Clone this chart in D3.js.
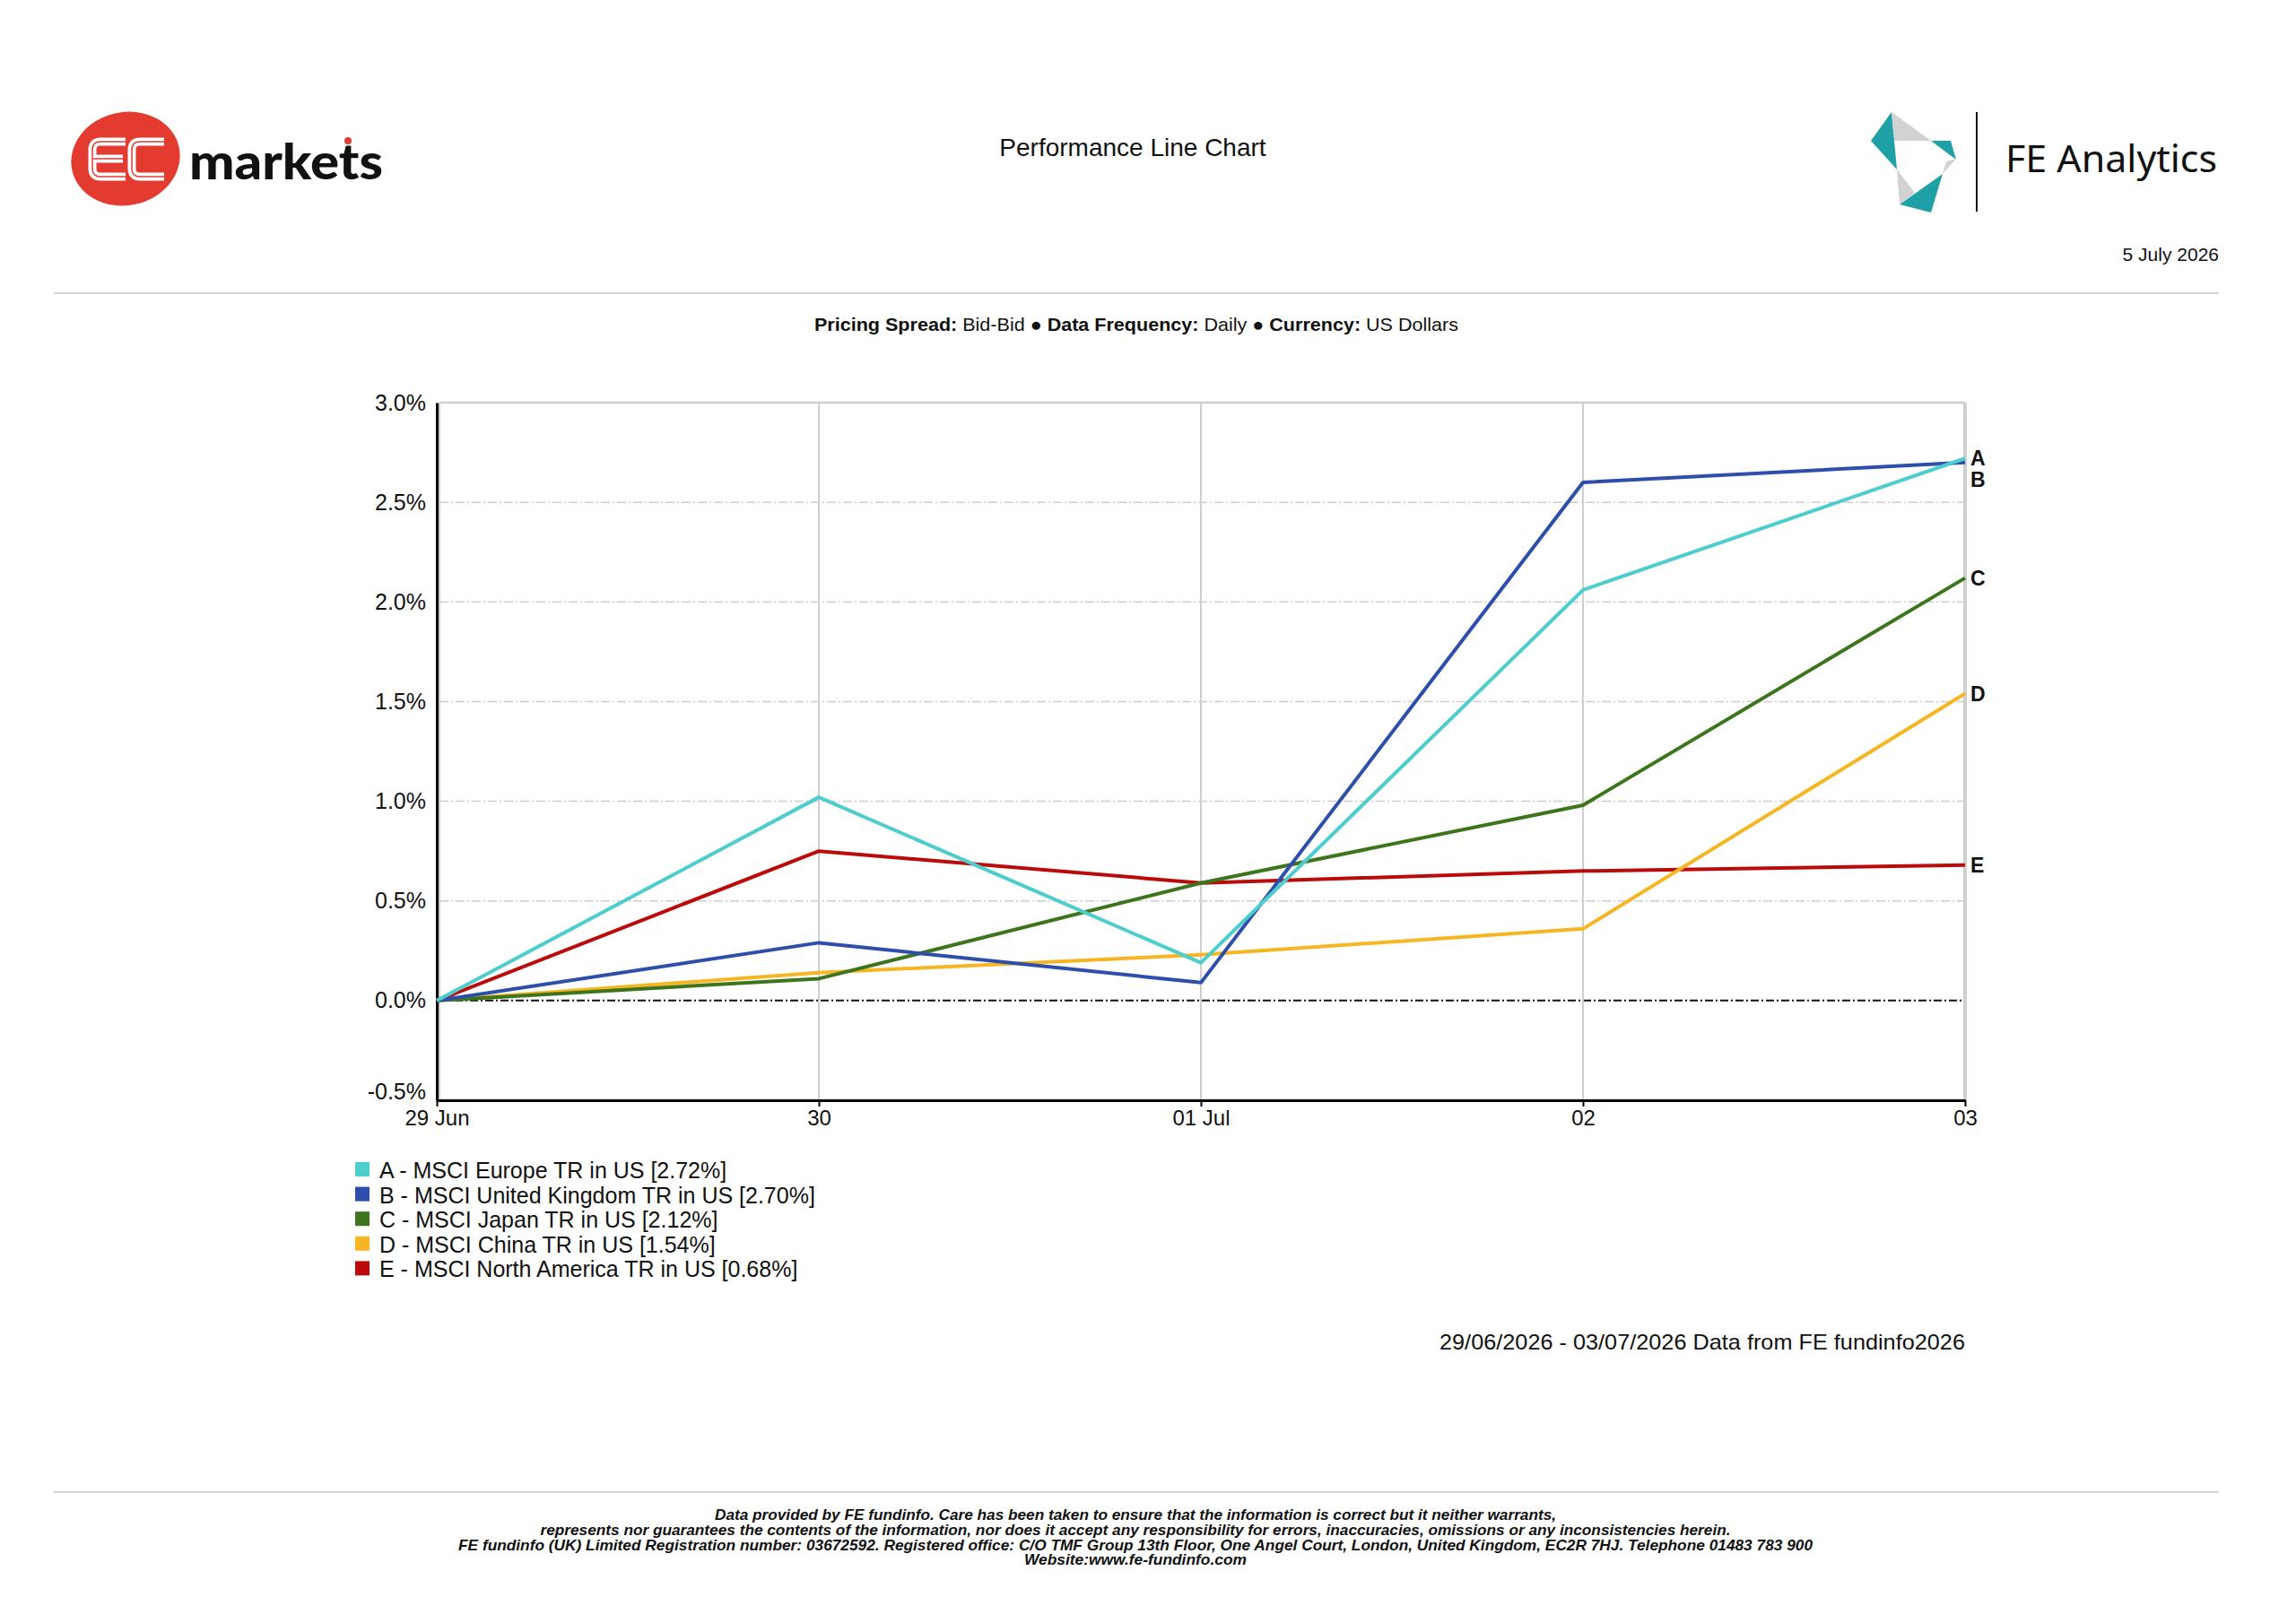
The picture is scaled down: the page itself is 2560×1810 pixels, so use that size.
<!DOCTYPE html>
<html>
<head>
<meta charset="utf-8">
<script src="https://cdn.jsdelivr.net/npm/d3@7"></script>
<style>
  body { margin: 0; background: #fff; }
  svg { display: block; font-family: "Liberation Sans", Arial, sans-serif; }
</style>
</head>
<body>
<div id="chart"></div>
<script>
// chart data
var dates = ["2026-06-29", "2026-06-30", "2026-07-01", "2026-07-02", "2026-07-03"];
var tickLabels = ["29 Jun", "30", "01 Jul", "02", "03"];
var yTicks = [-0.5, 0.0, 0.5, 1.0, 1.5, 2.0, 2.5, 3.0];

var seriesKeys = ["A", "B", "C", "D", "E"];
var seriesNames = [
  "A - MSCI Europe TR in US [2.72%]",
  "B - MSCI United Kingdom TR in US [2.70%]",
  "C - MSCI Japan TR in US [2.12%]",
  "D - MSCI China TR in US [1.54%]",
  "E - MSCI North America TR in US [0.68%]"
];
var seriesColors = ["#4ecdcd", "#2e4eab", "#3c751c", "#f6b624", "#bb0a0a"];

var valuesA = [0, 1.02, 0.19, 2.06, 2.72];
var valuesB = [0, 0.29, 0.09, 2.60, 2.70];
var valuesC = [0, 0.11, 0.59, 0.98, 2.12];
var valuesD = [0, 0.14, 0.23, 0.36, 1.54];
var valuesE = [0, 0.75, 0.59, 0.65, 0.68];

var footerLines = [
  "Data provided by FE fundinfo. Care has been taken to ensure that the information is correct but it neither warrants,",
  "represents nor guarantees the contents of the information, nor does it accept any responsibility for errors, inaccuracies, omissions or any inconsistencies herein.",
  "FE fundinfo (UK) Limited Registration number: 03672592. Registered office: C/O TMF Group 13th Floor, One Angel Court, London, United Kingdom, EC2R 7HJ. Telephone 01483 783 900",
  "Website:www.fe-fundinfo.com"
];

var svgWidth = 2560;
var svgHeight = 1810;

var svg = d3.select("#chart")
  .append("svg")
  .attr("width", svgWidth)
  .attr("height", svgHeight);

svg.append("rect").attr("width", svgWidth).attr("height", svgHeight).attr("fill", "#fff");

// ---------- header ----------
// EC markets logo
var ec = svg.append("g");
ec.append("ellipse")
  .attr("cx", 140).attr("cy", 177).attr("rx", 61).attr("ry", 52)
  .attr("transform", "rotate(-12,140,177)")
  .attr("fill", "#e33b30");
var ePath = "M140,158 H112 Q103,158 103,167 V188 Q103,197 112,197 H140 M104,177 H137";
var cPath = "M183,158 H156 Q147,158 147,167 V188 Q147,197 156,197 H183";
[ePath, cPath].forEach(function(p) {
  ec.append("path").attr("d", p).attr("fill", "none")
    .attr("stroke", "#fff").attr("stroke-width", 9).attr("stroke-linecap", "butt");
  ec.append("path").attr("d", p).attr("fill", "none")
    .attr("stroke", "#e33b30").attr("stroke-width", 1.5);
});
ec.append("text")
  .attr("x", 211).attr("y", 200)
  .attr("font-family", "Lato, 'DejaVu Sans', sans-serif")
  .attr("font-weight", 900)
  .attr("font-size", 56)
  .attr("textLength", 216)
  .attr("lengthAdjust", "spacingAndGlyphs")
  .attr("fill", "#111")
  .text("markets");
ec.append("circle").attr("cx", 388).attr("cy", 157).attr("r", 4).attr("fill", "#e33b30");

svg.append("text")
  .attr("x", 1263).attr("y", 174)
  .attr("text-anchor", "middle")
  .attr("font-size", 28)
  .attr("fill", "#111")
  .text("Performance Line Chart");

// FE Analytics logo
var fe = svg.append("g");
var teal = "#1fa0a6", grey = "#d2d2d2";
var shapes = [
  [[2086, 157], [2109, 125], [2115, 189], teal],
  [[2109, 125], [2153, 157], [2112, 157], grey],
  [[2153, 157], [2175, 157], [2181, 178], teal],
  [[2170, 180], [2181, 177], [2166, 194], grey],
  [[2166, 194], [2153, 237], [2118, 228], teal],
  [[2115, 189], [2118, 228], [2135, 215], grey]
];
shapes.forEach(function(s) {
  fe.append("polygon")
    .attr("points", s.slice(0, 3).map(function(p) { return p.join(","); }).join(" "))
    .attr("fill", s[3]);
});
fe.append("line").attr("x1", 2204).attr("x2", 2204).attr("y1", 125).attr("y2", 236)
  .attr("stroke", "#111").attr("stroke-width", 2);
fe.append("text")
  .attr("x", 2236).attr("y", 192)
  .attr("font-family", "'Noto Sans', 'Open Sans', sans-serif")
  .attr("font-size", 41)
  .attr("textLength", 236)
  .attr("lengthAdjust", "spacingAndGlyphs")
  .attr("fill", "#111")
  .text("FE Analytics");

svg.append("text")
  .attr("x", 2474).attr("y", 291)
  .attr("text-anchor", "end")
  .attr("font-size", 21)
  .attr("fill", "#111")
  .text("5 July 2026");

svg.append("line").attr("x1", 60).attr("x2", 2474).attr("y1", 327).attr("y2", 327)
  .attr("stroke", "#d4d4d4").attr("stroke-width", 2);

var sub = svg.append("text")
  .attr("x", 1267).attr("y", 369)
  .attr("text-anchor", "middle")
  .attr("font-size", 21)
  .attr("textLength", 718)
  .attr("lengthAdjust", "spacingAndGlyphs")
  .attr("fill", "#111");
[["Pricing Spread: ", true], ["Bid-Bid \u25CF ", false], ["Data Frequency: ", true],
 ["Daily \u25CF ", false], ["Currency: ", true], ["US Dollars", false]].forEach(function(p) {
  sub.append("tspan").attr("font-weight", p[1] ? "bold" : "normal").text(p[0]);
});

// ---------- chart ----------
var parseDate = d3.timeParse("%Y-%m-%d");
var xDates = dates.map(parseDate);

var plot = { left: 487, right: 2191, top: 449, bottom: 1227 };

var xScale = d3.scaleTime()
  .domain(d3.extent(xDates))
  .range([plot.left, plot.right]);

var yScale = d3.scaleLinear()
  .domain([-0.5, 3.0])
  .range([plot.bottom, plot.top]);

var grid = svg.append("g");

// horizontal gridlines
yTicks.forEach(function(t) {
  if (t === -0.5) return;
  var line = grid.append("line")
    .attr("x1", plot.left + 3).attr("x2", plot.right)
    .attr("y1", yScale(t)).attr("y2", yScale(t));
  if (t === 3.0) {
    line.attr("stroke", "#cfcfcf").attr("stroke-width", 2.5);
  } else if (t === 0) {
    line.attr("stroke", "#111").attr("stroke-width", 2).attr("stroke-dasharray", "9,3,2,3");
  } else {
    line.attr("stroke", "#cdcdcd").attr("stroke-width", 1.5).attr("stroke-dasharray", "10,3,2,3");
  }
});

// vertical gridlines
xDates.forEach(function(d, i) {
  var x = xScale(d);
  if (i === 0) x = x + 3;
  grid.append("line")
    .attr("x1", x).attr("x2", x)
    .attr("y1", plot.top).attr("y2", plot.bottom)
    .attr("stroke", "#cfcfcf")
    .attr("stroke-width", i === xDates.length - 1 ? 4 : 2);
});

// axes
var leftAxis = d3.axisLeft(yScale)
  .tickValues(yTicks)
  .tickFormat(function(d) { return d.toFixed(1) + "%"; })
  .tickSize(0)
  .tickPadding(12);

var bottomAxis = d3.axisBottom(xScale)
  .tickValues(xDates)
  .tickFormat(function(d, i) { return tickLabels[i]; })
  .tickSize(7)
  .tickSizeOuter(0)
  .tickPadding(4);

var yAxis = svg.append("g")
  .attr("transform", "translate(" + plot.left + ",0)")
  .call(leftAxis);
yAxis.select(".domain").attr("stroke", "#000").attr("stroke-width", 3);
yAxis.selectAll("text").attr("font-size", 25).attr("fill", "#111")
  .attr("font-family", "'Liberation Sans', Arial, sans-serif");
// the bottom label sits just above the first date label, as in the source
yAxis.selectAll(".tick").filter(function(d) { return d === -0.5; })
  .select("text").attr("dy", "-0.05em");

var xAxis = svg.append("g")
  .attr("transform", "translate(0," + plot.bottom + ")")
  .call(bottomAxis);
xAxis.select(".domain").attr("stroke", "#000").attr("stroke-width", 3);
xAxis.selectAll(".tick line").attr("stroke", "#000").attr("stroke-width", 2);
xAxis.selectAll("text").attr("font-size", 24).attr("fill", "#111")
  .attr("font-family", "'Liberation Sans', Arial, sans-serif");

// series lines
var allValues = [valuesA, valuesB, valuesC, valuesD, valuesE];
var seriesData = seriesKeys.map(function(k, i) {
  return {
    key: k,
    name: seriesNames[i],
    color: seriesColors[i],
    values: allValues[i].map(function(v, j) { return { date: xDates[j], value: v }; })
  };
});

var lineGen = d3.line()
  .x(function(d) { return xScale(d.date); })
  .y(function(d) { return yScale(d.value); });

svg.append("g")
  .selectAll("path")
  .data(seriesData.slice().reverse())
  .enter()
  .append("path")
  .attr("d", function(d) { return lineGen(d.values); })
  .attr("fill", "none")
  .attr("stroke", function(d) { return d.color; })
  .attr("stroke-width", 4)
  .attr("stroke-linejoin", "round");

// end labels, nudged apart so they do not overlap
var ends = seriesData.map(function(d) {
  return { key: d.key, y: yScale(d.values[d.values.length - 1].value) };
}).sort(function(a, b) { return a.y - b.y; });
for (var i = 1; i < ends.length; i++) {
  if (ends[i].y < ends[i - 1].y + 24) ends[i].y = ends[i - 1].y + 24;
}
svg.append("g")
  .selectAll("text")
  .data(ends)
  .enter()
  .append("text")
  .attr("x", plot.right + 6)
  .attr("y", function(d) { return d.y + 8; })
  .attr("font-size", 23)
  .attr("font-weight", "bold")
  .attr("fill", "#111")
  .text(function(d) { return d.key; });

// legend
var legend = svg.append("g")
  .selectAll("g")
  .data(seriesData)
  .enter()
  .append("g")
  .attr("transform", function(d, i) { return "translate(396," + (1305 + i * 27.6) + ")"; });
legend.append("rect")
  .attr("x", 0).attr("y", -9).attr("width", 16).attr("height", 16)
  .attr("fill", function(d) { return d.color; });
legend.append("text")
  .attr("x", 27).attr("y", 9)
  .attr("font-size", 25)
  .attr("fill", "#111")
  .text(function(d) { return d.name; });

svg.append("text")
  .attr("x", 2191).attr("y", 1505)
  .attr("text-anchor", "end")
  .attr("font-size", 24)
  .attr("textLength", 586)
  .attr("lengthAdjust", "spacingAndGlyphs")
  .attr("fill", "#111")
  .text("29/06/2026 - 03/07/2026 Data from FE fundinfo2026");

// ---------- footer ----------
svg.append("line").attr("x1", 60).attr("x2", 2474).attr("y1", 1664).attr("y2", 1664)
  .attr("stroke", "#d4d4d4").attr("stroke-width", 2);

var footerWidths = [938, 1327, 1510, 248];
svg.append("g")
  .selectAll("text")
  .data(footerLines)
  .enter()
  .append("text")
  .attr("x", 1266)
  .attr("y", function(d, i) { return 1695 + i * 16.8; })
  .attr("text-anchor", "middle")
  .attr("font-family", "'Liberation Sans Narrow', 'Liberation Sans', Arial, sans-serif")
  .attr("font-size", 17)
  .attr("font-weight", "bold")
  .attr("font-style", "italic")
  .attr("textLength", function(d, i) { return footerWidths[i]; })
  .attr("lengthAdjust", "spacingAndGlyphs")
  .attr("fill", "#111")
  .text(function(d) { return d; });
</script>
</body>
</html>
